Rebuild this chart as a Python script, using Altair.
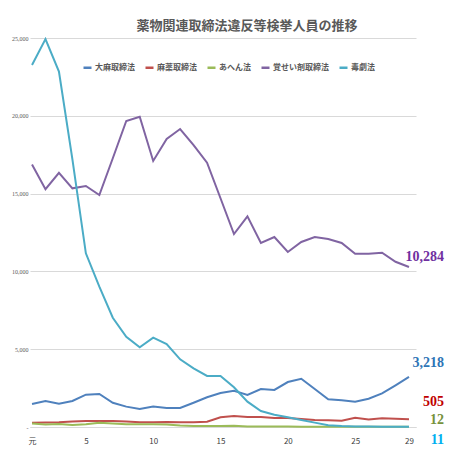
import altair as alt
import pandas as pd

# 平成 years (1 = 元)
years = list(range(1, 30))

taima = [1480, 1670, 1500, 1670, 2080, 2120, 1560, 1310, 1160, 1310, 1220, 1220, 1560, 1910, 2180,
         2330, 2060, 2440, 2380, 2890, 3100, 2440, 1780, 1720, 1630, 1820, 2160, 2680, 3218]
mayaku = [280, 290, 300, 350, 380, 390, 380, 350, 300, 300, 320, 300, 300, 340, 620,
          700, 650, 650, 580, 580, 510, 450, 430, 400, 600, 480, 560, 530, 505]
ahen = [230, 160, 200, 130, 170, 280, 230, 180, 170, 180, 160, 90, 60, 60, 70,
        80, 30, 30, 40, 30, 20, 20, 15, 10, 10, 15, 10, 10, 12]
kakuseizai = [16870, 15280, 16340, 15340, 15490, 14910, 17270, 19670, 19940, 17100, 18510, 19150, 18120, 16990, 14700,
              12400, 13540, 11830, 12210, 11250, 11890, 12210, 12080, 11830, 11140, 11140, 11200, 10620, 10284]
dokugeki = [23270, 24930, 22840, 17200, 11160, 9020, 7020, 5800, 5120, 5740, 5330, 4350, 3770, 3280, 3280,
            2550, 1630, 1030, 790, 620, 450, 280, 110, 60, 40, 25, 18, 14, 11]

series = ["大麻取締法", "麻薬取締法", "あへん法", "覚せい剤取締法", "毒劇法"]
line_colors = ["#4f81bd", "#c0504d", "#9bbb59", "#8064a2", "#4bacc6"]
label_colors = ["#2e75b6", "#c00000", "#76923c", "#7030a0", "#00b0f0"]
label_dy = [-14, -17, -7, -10, 13]

rows = []
for name, vals in zip(series, [taima, mayaku, ahen, kakuseizai, dokugeki]):
    for yr, v in zip(years, vals):
        rows.append({"year": yr, "law": name, "count": v})
df = pd.DataFrame(rows)

x = alt.X("year:Q",
          scale=alt.Scale(domain=[0.85, 29.52], nice=False, zero=False),
          axis=alt.Axis(values=[1, 5, 10, 15, 20, 25, 29],
                        labelExpr="datum.value == 1 ? '元' : datum.label",
                        grid=False, ticks=False, domainColor="#d9d9d9",
                        labelFont="Noto Sans CJK JP", labelFontSize=8, labelColor="#404040",
                        labelPadding=10, title=None))
y = alt.Y("count:Q",
          scale=alt.Scale(domain=[0, 25000], nice=False),
          axis=alt.Axis(values=[0, 5000, 10000, 15000, 20000, 25000],
                        labelExpr="datum.value == 0 ? '-' : format(datum.value, ',')",
                        grid=True, gridColor="#d9d9d9", ticks=False, domain=False,
                        labelFont="Liberation Sans Narrow", labelFontSize=6, labelColor="#595959",
                        labelPadding=2, title=None))

lines = alt.Chart(df).mark_line(strokeWidth=2).encode(
    x=x,
    y=y,
    color=alt.Color("law:N", scale=alt.Scale(domain=series, range=line_colors),
                    legend=alt.Legend(orient="none", legendX=52, legendY=24, direction="horizontal",
                                      columns=5, title=None, symbolType="stroke",
                                      symbolStrokeWidth=2.5, symbolSize=64, labelOffset=2,
                                      columnPadding=5, labelFont="Noto Sans CJK JP",
                                      labelFontSize=8, labelFontWeight="bold",
                                      labelColor="#595959"))
)

# end-of-line value labels
labels = []
for name, c, dy in zip(series, label_colors, label_dy):
    labels.append(alt.Chart(df).transform_filter(
        f"datum.law == '{name}' && datum.year == 29"
    ).mark_text(align="right", baseline="middle", dx=35, dy=dy, font="Liberation Sans Narrow",
                fontSize=14, fontWeight="bold", color=c).encode(
        x=x, y=y, text=alt.Text("count:Q", format=",")
    ))

chart = alt.layer(lines, *labels).properties(
    width=386,
    height=389,
    title=alt.Title("薬物関連取締法違反等検挙人員の推移", font="Noto Sans CJK JP", fontSize=13,
                    fontWeight="bold", color="#595959", anchor="middle", dx=24, offset=2),
    autosize=alt.AutoSizeParams(type="none"),
    padding={"left": 22, "top": 30, "right": 36, "bottom": 25},
    background="white",
).configure_view(stroke=None)

chart.save("out.html", embed_options={"renderer": "svg", "actions": False})
